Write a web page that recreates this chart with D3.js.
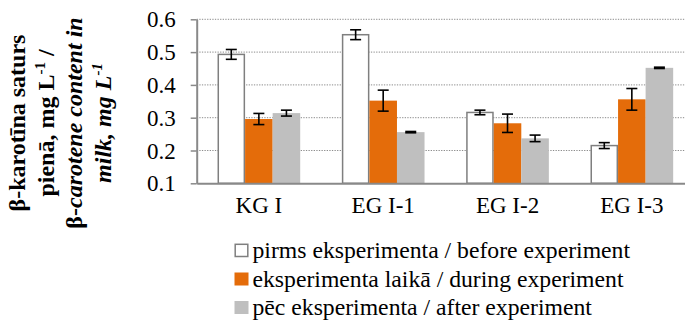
<!DOCTYPE html>
<html>
<head>
<meta charset="utf-8">
<script src="https://cdn.jsdelivr.net/npm/d3@7"></script>
</head>
<body style="margin:0">
<svg id="chart" width="685" height="320"></svg>
<script>
// data
var groups = ['KG I', 'EG I-1', 'EG I-2', 'EG I-3'];
var seriesNames = [
  'pirms eksperimenta / before experiment',
  'eksperimenta laikā / during experiment',
  'pēc eksperimenta / after experiment'
];
var before = [0.493, 0.553, 0.316, 0.215];
var during = [0.296, 0.352, 0.283, 0.356];
var after = [0.314, 0.256, 0.237, 0.452];
var beforeErr = [0.015, 0.015, 0.007, 0.009];
var duringErr = [0.017, 0.032, 0.028, 0.033];
var afterErr = [0.009, 0.002, 0.010, 0.002];
var yTicks = [0.1, 0.2, 0.3, 0.4, 0.5, 0.6];

var width = 685, height = 320;
var FONT = "'Liberation Serif'";
var colors = ['#ffffff', '#e46c0a', '#bfbfbf'];
var strokes = ['#7f7f7f', 'none', 'none'];

var svg = d3.select('#chart');

var y = d3.scaleLinear().domain([0.1, 0.6]).range([183.3, 19.3]);
var x = d3.scaleBand().domain(groups).range([196.7, 694])
    .paddingInner(0.335).paddingOuter(0.1675);
var xs = d3.scaleBand().domain([0, 1, 2]).range([0, x.bandwidth()]);

// gridlines
svg.append('g').selectAll('line').data(yTicks.slice(1))
    .enter().append('line')
    .attr('x1', 196.7).attr('x2', width)
    .attr('y1', d => y(d)).attr('y2', d => y(d))
    .attr('stroke', '#8c8c8c')
    .attr('stroke-width', 1)
    .attr('stroke-dasharray', '1.3,1.3');

// bars
var rows = [];
groups.forEach((gname, i) => {
    [before, during, after].forEach((s, j) => {
        var err = [beforeErr, duringErr, afterErr][j][i];
        rows.push({ group: gname, k: j, v: s[i], e: err });
    });
});

svg.append('g').selectAll('rect').data(rows)
    .enter().append('rect')
    .attr('x', d => x(d.group) + xs(d.k) + (d.k == 0 ? 0.75 : 0))
    .attr('y', d => y(d.v))
    .attr('width', d => xs.bandwidth() - (d.k == 0 ? 1.5 : 0))
    .attr('height', d => y(0.1) - y(d.v))
    .attr('fill', d => colors[d.k])
    .attr('stroke', d => strokes[d.k])
    .attr('stroke-width', 1.5);

// error bars
var eb = svg.append('g').attr('stroke', '#000').attr('stroke-width', 1.6);
rows.forEach(d => {
    var cx = x(d.group) + xs(d.k) + xs.bandwidth() / 2;
    var y1 = y(d.v + d.e), y2 = y(d.v - d.e);
    eb.append('line').attr('x1', cx).attr('x2', cx).attr('y1', y1).attr('y2', y2);
    eb.append('line').attr('x1', cx - 5.5).attr('x2', cx + 5.5).attr('y1', y1).attr('y2', y1);
    eb.append('line').attr('x1', cx - 5.5).attr('x2', cx + 5.5).attr('y1', y2).attr('y2', y2);
});

// y axis
var yAxis = svg.append('g')
    .attr('transform', 'translate(196.7,0)')
    .call(d3.axisLeft(y).tickValues(yTicks).tickFormat(d3.format('.1f')).tickSize(6).tickSizeOuter(0));
yAxis.select('.domain').attr('stroke', '#898989').attr('stroke-width', 2);
yAxis.selectAll('.tick line').attr('stroke', '#898989').attr('stroke-width', 1.5);
yAxis.selectAll('.tick text')
    .attr('x', -21)
    .attr('dy', '0.33em')
    .attr('fill', '#000')
    .style('font-family', FONT)
    .style('font-size', '23px');

// x axis
var xAxis = svg.append('g')
    .attr('transform', 'translate(0,183.3)')
    .call(d3.axisBottom(x).tickSize(0).tickSizeOuter(0));
xAxis.select('.domain').attr('stroke', '#898989').attr('stroke-width', 2);
xAxis.selectAll('.tick text')
    .attr('y', 30)
    .attr('dy', 0)
    .attr('fill', '#000')
    .style('font-family', FONT)
    .style('font-size', '23px');

// legend
var legend = svg.append('g');
var legendY = [258, 286.5, 315];
seriesNames.forEach((name, i) => {
    legend.append('rect')
        .attr('x', i == 0 ? 235.2 : 234.5)
        .attr('y', legendY[i] - 14 + (i == 0 ? 0.3 : 0))
        .attr('width', i == 0 ? 12.6 : 14)
        .attr('height', i == 0 ? 12.2 : 13)
        .attr('fill', colors[i])
        .attr('stroke', strokes[i])
        .attr('stroke-width', 1.5);
    legend.append('text')
        .attr('x', 252.5)
        .attr('y', legendY[i])
        .style('font-family', FONT)
        .style('font-size', '23.7px')
        .text(name);
});

// y axis title
var title = svg.append('text')
    .attr('transform', 'translate(0,123) rotate(-90)')
    .attr('text-anchor', 'middle')
    .style('font-family', FONT)
    .style('font-size', '24px')
    .style('font-weight', 'bold');

title.append('tspan').attr('x', 0).attr('y', 25).text('β-karotīna saturs');
var l2 = title.append('tspan').attr('x', 0).attr('y', 53.5);
l2.append('tspan').text('pienā, mg L');
l2.append('tspan').attr('dy', -9).style('font-size', '15px').text('-1');
l2.append('tspan').attr('dy', 9).text(' /');
var l3 = title.append('tspan').attr('x', 0).attr('y', 82);
l3.append('tspan').text('β-');
l3.append('tspan').style('font-style', 'italic').text('carotene content in');
var l4 = title.append('tspan').attr('x', 0).attr('y', 110.5).style('font-style', 'italic');
l4.append('tspan').text('milk, mg L');
l4.append('tspan').attr('dy', -9).style('font-size', '15px').text('-1');
</script>
</body>
</html>
